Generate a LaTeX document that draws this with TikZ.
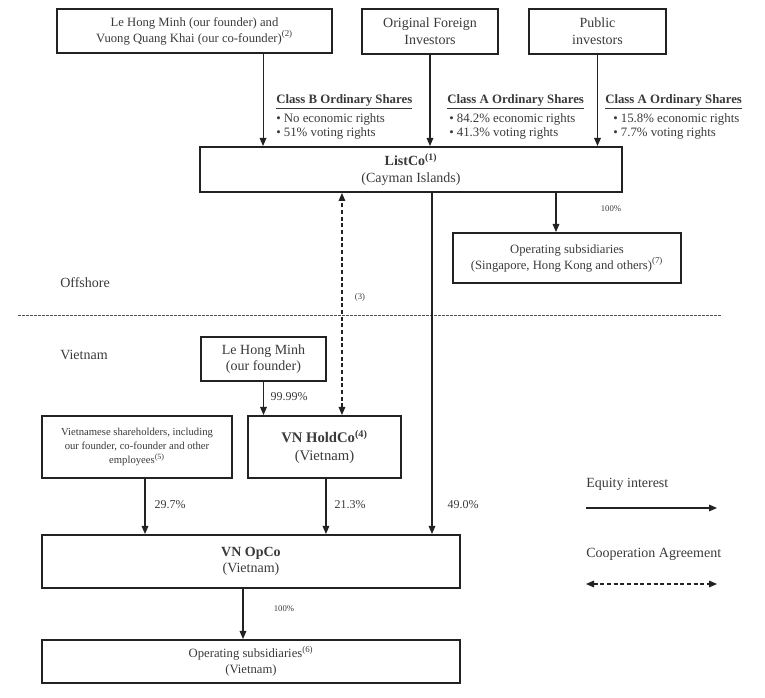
\documentclass[tikz,border=0pt]{standalone}
\usepackage{fontspec}
\setmainfont{Liberation Serif}
\usetikzlibrary{arrows.meta,positioning,calc}
\definecolor{ink}{HTML}{222222}
\definecolor{txt}{HTML}{3A3A3A}
\newcommand{\fsz}[2]{\fontsize{#1}{#2}\selectfont}
\tikzset{
  entitybox/.style n args={2}{
    rectangle, draw=ink, line width=1.5pt, fill=white, text=txt,
    minimum width=#1, minimum height=#2,
    align=center, inner sep=2pt
  },
  equity/.style={
    -{Triangle[length=6pt,width=5pt]}, draw=ink, line width=0.8pt
  },
  coop/.style={
    {Triangle[length=6pt,width=5pt]}-{Triangle[length=6pt,width=5pt]},
    draw=ink, line width=0.8pt, dash pattern=on 3pt off 2pt
  },
  divider/.style={draw=ink!80, line width=0.6pt, dash pattern=on 2pt off 1pt},
  sharelabel/.style={anchor=north west, inner sep=0pt, align=left, text=txt,
    font=\fsz{9.6}{10.6}},
  pctlabel/.style={text=txt, inner sep=0pt, font=\fsz{9}{11}},
  smalllabel/.style={text=txt, inner sep=0pt, font=\fsz{6.5}{8}},
  regionlabel/.style={text=txt, anchor=west, inner sep=0pt, font=\fsz{10.5}{12}},
}

\begin{document}
\begin{tikzpicture}[x=0.75pt, y=-0.75pt]
  \useasboundingbox (0,0) rectangle (765,698);

  % Shareholders
  \node[entitybox={206pt}{33pt}, font=\fsz{9.5}{12}] (founders) at (194.5,31)
    {Le Hong Minh (our founder) and\\Vuong Quang Khai (our co-founder)\textsuperscript{(2)}};
  \node[entitybox={102pt}{33.75pt}, font=\fsz{10.5}{12.5}] (foreign) at (430,31.5)
    {Original Foreign\\Investors};
  \node[entitybox={102.75pt}{33.75pt}, font=\fsz{10.5}{12.5}] (public) at (597.5,31.5)
    {Public\\investors};

  % ListCo
  \node[entitybox={316.5pt}{33.75pt}, font=\fsz{10.5}{12.5}] (listco) at (411,169.5)
    {\textbf{ListCo}\textsuperscript{\textbf{(1)}}\\(Cayman Islands)};
  \node[entitybox={171pt}{37.5pt}, font=\fsz{9.5}{12}] (opsubs) at (567,258)
    {Operating subsidiaries\\(Singapore, Hong Kong and others)\textsuperscript{(7)}};

  \draw[equity] ([xshift=51.4pt]founders.south) coordinate (f1) -- (f1 |- listco.north);
  \draw[equity] (foreign.south) -- (foreign.south |- listco.north);
  \draw[equity] (public.south) -- (public.south |- listco.north);
  \path ([xshift=-8.25pt]opsubs.north) coordinate (s1);
  \draw[equity] (s1 |- listco.south) -- (s1);

  \node[sharelabel] (classb) at (276,94)
    {\underline{\textbf{Class B Ordinary Shares}}\\[3pt]\textbullet\ No economic rights\\\textbullet\ 51\% voting rights};
  \node[sharelabel] (classa1) at (447,94)
    {\underline{\textbf{Class A Ordinary Shares}}\\[3pt]\hspace*{1.5pt}\textbullet\ 84.2\% economic rights\\\hspace*{1.5pt}\textbullet\ 41.3\% voting rights};
  \node[sharelabel] (classa2) at (605,94)
    {\underline{\textbf{Class A Ordinary Shares}}\\[3pt]\hspace*{6pt}\textbullet\ 15.8\% economic rights\\\hspace*{6pt}\textbullet\ 7.7\% voting rights};
  \node[smalllabel] (pct100a) at (611,209) {100\%};

  % Offshore / Vietnam
  \coordinate (divl) at (18,315);
  \coordinate (divr) at (722,315);
  \draw[divider] (divl) -- (divr);
  \node[regionlabel] (offshore) at (60,283) {Offshore};
  \node[regionlabel] (vietnam) at (60,355) {Vietnam};

  % Vietnam entities
  \node[entitybox={93.75pt}{33pt}, font=\fsz{10.5}{12.5}] (lhm) at (263.5,359)
    {Le Hong Minh\\(our founder)};
  \node[entitybox={142.5pt}{46.5pt}, font=\fsz{8}{10.2}] (vsh) at (137,447)
    {Vietnamese shareholders, including\\our founder, co-founder and other\\employees\textsuperscript{(5)}};
  \node[entitybox={114.75pt}{46.5pt}, font=\fsz{11}{13.5}] (holdco) at (324.5,447)
    {\textbf{VN HoldCo}\textsuperscript{\textbf{(4)}}\\(Vietnam)};
  \node[entitybox={313.5pt}{39.75pt}, font=\fsz{10.5}{12.5}] (opco) at (251,561.5)
    {\textbf{VN OpCo}\\(Vietnam)};
  \node[entitybox={313.5pt}{32.25pt}, font=\fsz{9.5}{12}] (opsubsvn) at (251,661.5)
    {Operating subsidiaries\textsuperscript{(6)}\\(Vietnam)};

  \draw[coop] ([xshift=13.1pt]holdco.north) coordinate (d1) -- (d1 |- listco.south);
  \node[smalllabel] (note3) at (360,297) {(3)};
  \draw[equity] ([xshift=15.75pt]listco.south) coordinate (l1) -- (l1 |- opco.north);
  \draw[equity] (lhm.south) -- (lhm.south |- holdco.north);
  \draw[equity] ([xshift=6pt]vsh.south) coordinate (v1) -- (v1 |- opco.north);
  \draw[equity] ([xshift=1.1pt]holdco.south) coordinate (h1) -- (h1 |- opco.north);
  \draw[equity] ([xshift=-6pt]opco.south) coordinate (o1) -- (o1 |- opsubsvn.north);

  \node[pctlabel] (pct9999) at (289,397) {99.99\%};
  \node[pctlabel] (pct297) at (170,505) {29.7\%};
  \node[pctlabel] (pct213) at (350,505) {21.3\%};
  \node[pctlabel] (pct490) at (463,505) {49.0\%};
  \node[smalllabel] (pct100b) at (284,609) {100\%};

  % Legend
  \node[regionlabel] (legeq) at (586,484) {Equity interest};
  \coordinate (eqa) at (586,508);
  \coordinate (eqb) at (717,508);
  \draw[equity] (eqa) -- (eqb);
  \node[regionlabel] (legco) at (586,554) {Cooperation Agreement};
  \coordinate (coa) at (586,584);
  \coordinate (cob) at (717,584);
  \draw[coop] (coa) -- (cob);
\end{tikzpicture}
\end{document}
